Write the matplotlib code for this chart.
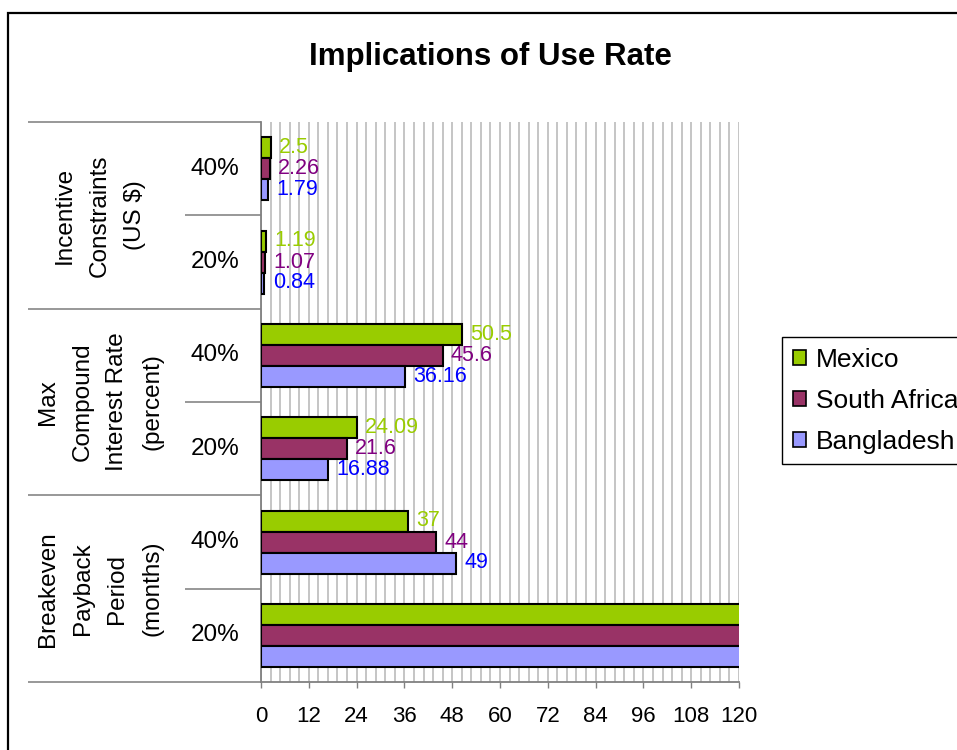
import numpy as np
import matplotlib
matplotlib.use('Agg')
import matplotlib.pyplot as plt
from matplotlib.patches import Patch, Rectangle
from matplotlib.ticker import MultipleLocator, FixedLocator

plt.rcParams['font.family'] = ['Liberation Sans', 'DejaVu Sans']

# data, top to bottom
groups = ['Incentive\nConstraints\n(US $)',
          'Max\nCompound\nInterest Rate\n(percent)',
          'Breakeven\nPayback\nPeriod\n(months)']
rates = ['40%', '20%', '40%', '20%', '40%', '20%']
series = ['Mexico', 'South Africa', 'Bangladesh']
mexico = [2.5, 1.19, 50.5, 24.09, 37, 150]
south_africa = [2.26, 1.07, 45.6, 21.6, 44, 180]
bangladesh = [1.79, 0.84, 36.16, 16.88, 49, 200]

fill_colors = ['#99cc00', '#993366', '#9999ff']
label_colors = ['#99cc00', '#800080', '#0000ff']

W, H = 957, 750
fig = plt.figure(figsize=(W/100, H/100), dpi=100)
ax = fig.add_axes([261/W, 1-682/H, 478/W, 560/H])

xmax = 120
bar_h = 0.225
centers = np.arange(len(rates)) + 0.5
for k, vals in enumerate([mexico, south_africa, bangladesh]):
    y = centers + (k-1)*bar_h
    ax.barh(y, vals, height=bar_h, color=fill_colors[k], edgecolor='black',
            linewidth=1.5, zorder=3, label=series[k])
    for yy, v in zip(y, vals):
        if v <= xmax:
            ax.annotate(('%g' % v), xy=(v, yy), xytext=(6, 0),
                        textcoords='offset points', va='center', ha='left',
                        fontsize=15.5, color=label_colors[k], zorder=4)

ax.set_xlim(0, xmax)
ax.set_ylim(len(rates), 0)

# x axis: major every 12, grid every 2.4
ax.xaxis.set_major_locator(MultipleLocator(12))
ax.xaxis.set_minor_locator(MultipleLocator(2.4))
ax.grid(which='both', axis='x', color='#c0c0c0', linewidth=1.3, zorder=0)
ax.tick_params(axis='x', which='major', direction='out', length=4, width=1,
               color='#808080', labelsize=16, pad=13)
ax.tick_params(axis='x', which='minor', length=0)

# y axis: long ticks as category / group separators
ax.yaxis.set_major_locator(FixedLocator([0, 2, 4, 6]))
ax.yaxis.set_minor_locator(FixedLocator([1, 3, 5]))
ax.set_yticklabels([])
ax.tick_params(axis='y', which='major', direction='out', length=168, width=1.3,
               color='#909090')
ax.tick_params(axis='y', which='minor', direction='out', length=55, width=1.3,
               color='#909090')

for s in ['top', 'right']:
    ax.spines[s].set_visible(False)
for s in ['left', 'bottom']:
    ax.spines[s].set_color('#808080')
    ax.spines[s].set_linewidth(1.3)

tr = ax.get_yaxis_transform()
for yy, r in zip(centers, rates):
    ax.text(-0.096, yy, r, transform=tr, ha='center', va='center', fontsize=17.5)
for i, g in enumerate(groups):
    ax.text(-0.337, 2*i + 1, g, transform=tr, ha='center', va='center',
            rotation=90, fontsize=17.5, linespacing=1.75, multialignment='center')

fig.text(490/W, 1-57/H, 'Implications of Use Rate', ha='center', va='center',
         fontsize=22.5, fontweight='bold')

handles = [Patch(facecolor=c, edgecolor='black', linewidth=1.2) for c in fill_colors]
fig.legend(handles, series, loc='upper left', bbox_to_anchor=(782/W, 1-337/H),
           borderaxespad=0, fontsize=19, frameon=True, fancybox=False,
           edgecolor='black', framealpha=1, handlelength=0.5, handleheight=0.5,
           handletextpad=0.4, labelspacing=0.65, borderpad=0.4)

# outer chart border
fig.patches.append(Rectangle((8/W, -0.05), 1.0, 1-13/H+0.05, transform=fig.transFigure,
                             fill=False, edgecolor='black', linewidth=1.6))

fig.savefig('out.png', dpi=100)
